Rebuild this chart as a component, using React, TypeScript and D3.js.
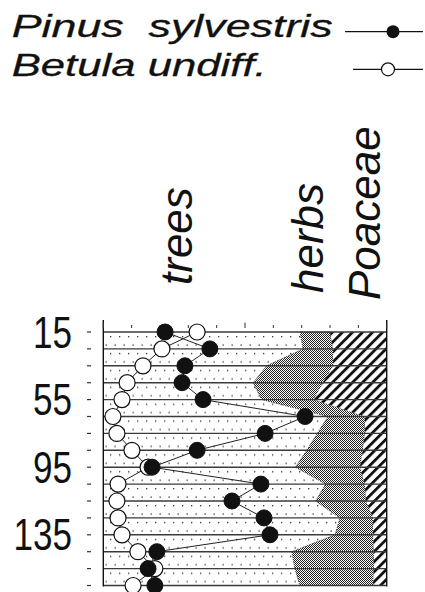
import React from "react";
import * as d3 from "d3";

// Profundidades de las muestras (cm)
const depths = [15, 25, 35, 45, 55, 65, 75, 85, 95, 105, 115, 125, 135, 145, 155, 165];
const depthLabels = [15, 55, 95, 135];

// Curvas de polen (%)
const pinus = [21.8, 37.6, 28.8, 27.8, 35.2, 71.2, 57.1, 33.1, 17.2, 55.6, 45.4, 56.7, 58.8, 18.9, 15.8, 18.2];
const betula = [33.1, 20.7, 14.0, 8.4, 6.6, 3.4, 4.8, 10.1, 15.8, 5.2, 4.8, 5.2, 6.6, 12.2, 18.2, 10.5];

// Diagrama acumulado (%)
const trees = [69.4, 70.5, 57.7, 52.9, 55.9, 79.3, 75.5, 71.8, 67.8, 78.5, 74.9, 83.5, 81.8, 66.5, 67.6, 69.4];
const herbs = [10.6, 10.6, 23.4, 24.6, 18.4, 13.0, 16.8, 19.8, 22.8, 13.8, 17.8, 11.7, 13.4, 29.0, 27.9, 25.8];
const poaceae = [20.0, 18.9, 18.9, 22.5, 25.7, 7.7, 7.7, 8.4, 9.4, 7.7, 7.3, 4.8, 4.8, 4.5, 4.5, 4.8];
const groups = ["trees", "herbs", "Poaceae"];

const FONT = "'Liberation Sans', Arial, sans-serif";

export default function App() {
  const width = 425,
    height = 592;
  const left = 103.3,
    right = 386.7,
    top = 332,
    bottom = 585.5;

  const x = d3.scaleLinear().domain([0, 100]).range([left, right]);
  const y = d3.scaleLinear().domain([15, 165]).range([top, bottom]);

  // tabla para el apilado
  const rows = depths.map((d, i) => ({
    depth: d,
    trees: trees[i],
    herbs: herbs[i],
    Poaceae: poaceae[i],
  }));
  const stacked = d3.stack<any>().keys(groups)(rows);

  const area = d3
    .area<any>()
    .y((d) => y(d.data.depth))
    .x0((d) => x(d[0]))
    .x1((d) => x(d[1]));

  const fills = ["url(#dots)", "url(#stipple)", "url(#hatch)"];

  const line = d3
    .line<number>()
    .x((d) => x(d))
    .y((d, i) => y(depths[i]));

  // posiciones de las cabeceras giradas
  const headerPos = [
    { label: "trees", x: 191.5, y: 285 },
    { label: "herbs", x: 323, y: 293 },
    { label: "Poaceae", x: 380, y: 300 },
  ];

  return (
    <svg
      width={width}
      height={height}
      style={{ position: "absolute", left: 0, top: 0, background: "#fff" }}
    >
      <defs>
        <pattern id="dots" patternUnits="userSpaceOnUse" width={9} height={16.9} y={top}>
          <rect width={9} height={16.9} fill="#fff" />
          <rect x={2} y={4} width={1.3} height={1.3} fill="#333" />
          <rect x={6.5} y={12.4} width={1.3} height={1.3} fill="#333" />
        </pattern>
        <pattern id="stipple" patternUnits="userSpaceOnUse" width={2} height={2}>
          <rect width={2} height={2} fill="#fff" />
          <rect x={0} y={0} width={1} height={1} fill="#222" />
          <rect x={1} y={1} width={1} height={1} fill="#222" />
        </pattern>
        <pattern
          id="hatch"
          patternUnits="userSpaceOnUse"
          width={7.1}
          height={10}
          patternTransform="rotate(45)"
        >
          <rect width={7.1} height={10} fill="#fff" />
          <rect x={0} y={0} width={2.8} height={10} fill="#111" />
        </pattern>
      </defs>

      {/* Leyenda */}
      <text
        x={11.7}
        y={36.7}
        fontFamily={FONT}
        fontStyle="italic"
        fontSize={32}
        textLength={321}
        lengthAdjust="spacingAndGlyphs"
        style={{ whiteSpace: "pre" }}
        fill="#111"
        stroke="#111"
        strokeWidth={0.3}
      >
        {"Pinus  sylvestris"}
      </text>
      <line x1={345} x2={423} y1={31.7} y2={31.7} stroke="#111" strokeWidth={1.2} />
      <circle cx={393} cy={31.7} r={6.5} fill="#111" />
      <text
        x={11.7}
        y={76}
        fontFamily={FONT}
        fontStyle="italic"
        fontSize={32}
        textLength={255}
        lengthAdjust="spacingAndGlyphs"
        fill="#111"
        stroke="#111"
        strokeWidth={0.3}
      >
        Betula undiff.
      </text>
      <line x1={353} x2={423} y1={69.3} y2={69.3} stroke="#111" strokeWidth={1.2} />
      <circle cx={388} cy={69.3} r={6.5} fill="#fff" stroke="#111" strokeWidth={1.2} />

      {/* Cabeceras de los grupos */}
      {headerPos.map((h) => (
        <text
          key={h.label}
          transform={`translate(${h.x},${h.y}) rotate(-90)`}
          fontFamily={FONT}
          fontStyle="italic"
          fontSize={44}
          fill="#111"
        >
          {h.label}
        </text>
      ))}

      {/* Áreas acumuladas */}
      {stacked.map((s, i) => (
        <path
          key={s.key}
          d={area(s) as string}
          fill={fills[i]}
          stroke={i === 1 ? "#333" : "none"}
          strokeWidth={0.8}
          strokeDasharray={i === 1 ? "1.5,1" : undefined}
        />
      ))}

      {/* Líneas horizontales de muestras */}
      {depths.map((d) => (
        <line key={d} x1={left} x2={right} y1={y(d)} y2={y(d)} stroke="#3a3a3a" strokeWidth={1.4} />
      ))}

      {/* Marco y ticks superiores */}
      <line x1={left} x2={left} y1={320} y2={bottom + 1} stroke="#111" strokeWidth={1.4} />
      <line x1={right} x2={right} y1={320} y2={bottom + 1} stroke="#111" strokeWidth={1.4} />
      {x.ticks(10).map((t) => (
        <line
          key={t}
          x1={x(t)}
          x2={x(t)}
          y1={t % 50 === 0 ? 322.5 : 325}
          y2={328}
          stroke="#333"
          strokeWidth={1}
        />
      ))}

      {/* Eje de profundidad */}
      {depths.map((d) => (
        <line key={d} x1={87} x2={91} y1={y(d)} y2={y(d)} stroke="#333" strokeWidth={1.2} />
      ))}
      {depthLabels.map((d) => {
        const s = String(d);
        const len = s.length * 19.5;
        return (
          <text
            key={d}
            x={72 - len}
            y={y(d) + 15.5}
            fontFamily={FONT}
            fontSize={44}
            textLength={len}
            lengthAdjust="spacingAndGlyphs"
            fill="#111"
          >
            {s}
          </text>
        );
      })}

      {/* Curvas de Betula y Pinus */}
      <path d={line(betula) as string} fill="none" stroke="#222" strokeWidth={1} />
      <path d={line(pinus) as string} fill="none" stroke="#222" strokeWidth={1} />
      {betula.map((v, i) => (
        <circle key={"b" + i} cx={x(v)} cy={y(depths[i])} r={8} fill="#fff" stroke="#111" strokeWidth={1.2} />
      ))}
      {pinus.map((v, i) => (
        <circle key={"p" + i} cx={x(v)} cy={y(depths[i])} r={8} fill="#111" stroke="#111" strokeWidth={1} />
      ))}
    </svg>
  );
}
